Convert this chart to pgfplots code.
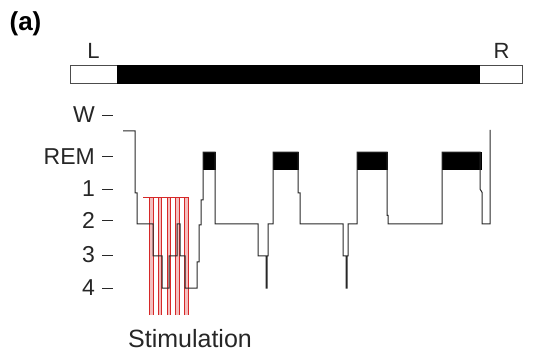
\documentclass[border=0pt]{standalone}
\usepackage{fontspec}
\setmainfont{Liberation Sans}
\usepackage{pgfplots}
\pgfplotsset{compat=1.18}
\definecolor{stim}{RGB}{214,40,40}
\definecolor{stimfill}{RGB}{244,190,190}
\definecolor{trace}{RGB}{40,40,40}

\begin{document}
\begin{tikzpicture}
\useasboundingbox (0,0) rectangle (534pt,351pt);
\begin{axis}[
  at={(123pt,63pt)}, anchor=origin,
  x=1pt, y=33pt,
  xmin=-10, xmax=399, ymin=-0.82, ymax=5.3,
  clip=false,
  hide x axis,
  y axis line style={draw=none},
  ytick pos=left, tick align=outside,
  major tick length=11pt,
  ytick style={trace, line width=1pt},
  ytick={0,1,2.06,3,3.97,5.24},
  yticklabels={4,3,2,1,REM,W},
  yticklabel style={font=\fontsize{23}{25}\selectfont, text=black!85, inner sep=0pt, xshift=-7pt},
]
% stimulation pulses
\addplot [stim, line width=0.8pt, fill=stimfill] coordinates {(26.5,-0.82)(26.5,2.76)(30,2.76)(30,-0.82)};
\addplot [stim, line width=0.8pt, fill=stimfill] coordinates {(35.25,-0.82)(35.25,2.76)(38.75,2.76)(38.75,-0.82)};
\addplot [stim, line width=0.8pt, fill=stimfill] coordinates {(44,-0.82)(44,2.76)(47.5,2.76)(47.5,-0.82)};
\addplot [stim, line width=0.8pt, fill=stimfill] coordinates {(52.75,-0.82)(52.75,2.76)(56.25,2.76)(56.25,-0.82)};
\addplot [stim, line width=0.8pt, fill=stimfill] coordinates {(61.5,-0.82)(61.5,2.76)(65,2.76)(65,-0.82)};
\addplot [stim, line width=0.8pt] coordinates {(20,2.76)(65,2.76)};

% REM episodes
\addplot [fill=black, draw=black, line width=0.6pt] coordinates {(80,3.6)(80,4.12)(92,4.12)(92,3.6)} --cycle;
\addplot [fill=black, draw=black, line width=0.6pt] coordinates {(150,3.6)(150,4.12)(175,4.12)(175,3.6)} --cycle;
\addplot [fill=black, draw=black, line width=0.6pt] coordinates {(234,3.6)(234,4.12)(264,4.12)(264,3.6)} --cycle;
\addplot [fill=black, draw=black, line width=0.6pt] coordinates {(319,3.6)(319,4.12)(358,4.12)(358,3.6)} --cycle;

% hypnogram
\addplot [trace, line width=1pt, mark=none] coordinates {
(0,4.76)(12,4.76)(12,2.88)(14,2.88)(14,1.94)(30,1.94)(30,0.97)(39,0.97)
(39,0)(46,0)(46,0.97)(54,0.97)(54,1.94)(57,1.94)(57,0.97)(62,0.97)
(62,0)(74,0)(74,0.79)(76,0.79)(76,1.91)(78,1.91)(78,2.67)(80,2.67)(80,4.12)
(92,4.12)(92,1.94)(135,1.94)(135,0.97)(143,0.97)(143,0)(144,0)(144,0.97)
(145,0.97)(145,1.94)(150,1.94)(150,4.12)(175,4.12)(175,2.88)(177,2.88)
(177,1.94)(220,1.94)(220,0.97)(223,0.97)(223,0)(224,0)(224,0.97)(225,0.97)
(225,1.94)(234,1.94)(234,4.12)(264,4.12)(264,2.2)(265,2.2)(265,1.94)
(319,1.94)(319,4.12)(357,4.12)(357,3.0)(359,2.9)(359,1.94)(367,1.94)(367,4.79)};

% left/right bar
\addplot [draw=black!70, fill=white, line width=0.8pt] coordinates {(-53,6.21)(-53,6.76)(399,6.76)(399,6.21)} --cycle;
\addplot [fill=black, draw=black, line width=0.6pt] coordinates {(-6,6.21)(-6,6.76)(356,6.76)(356,6.21)} --cycle;

\node[font=\fontsize{22}{24}\selectfont, text=black!85] at (axis cs:-29.5,7.17) {L};
\node[font=\fontsize{22}{24}\selectfont, text=black!85] at (axis cs:378.5,7.17) {R};
\node[font=\bfseries\fontsize{26}{28}\selectfont] at (axis cs:-97.5,8.0) {(a)};
\node[font=\fontsize{25}{27}\selectfont, text=black!85] at (axis cs:67,-1.52) {Stimulation};
\end{axis}
\end{tikzpicture}
\end{document}
